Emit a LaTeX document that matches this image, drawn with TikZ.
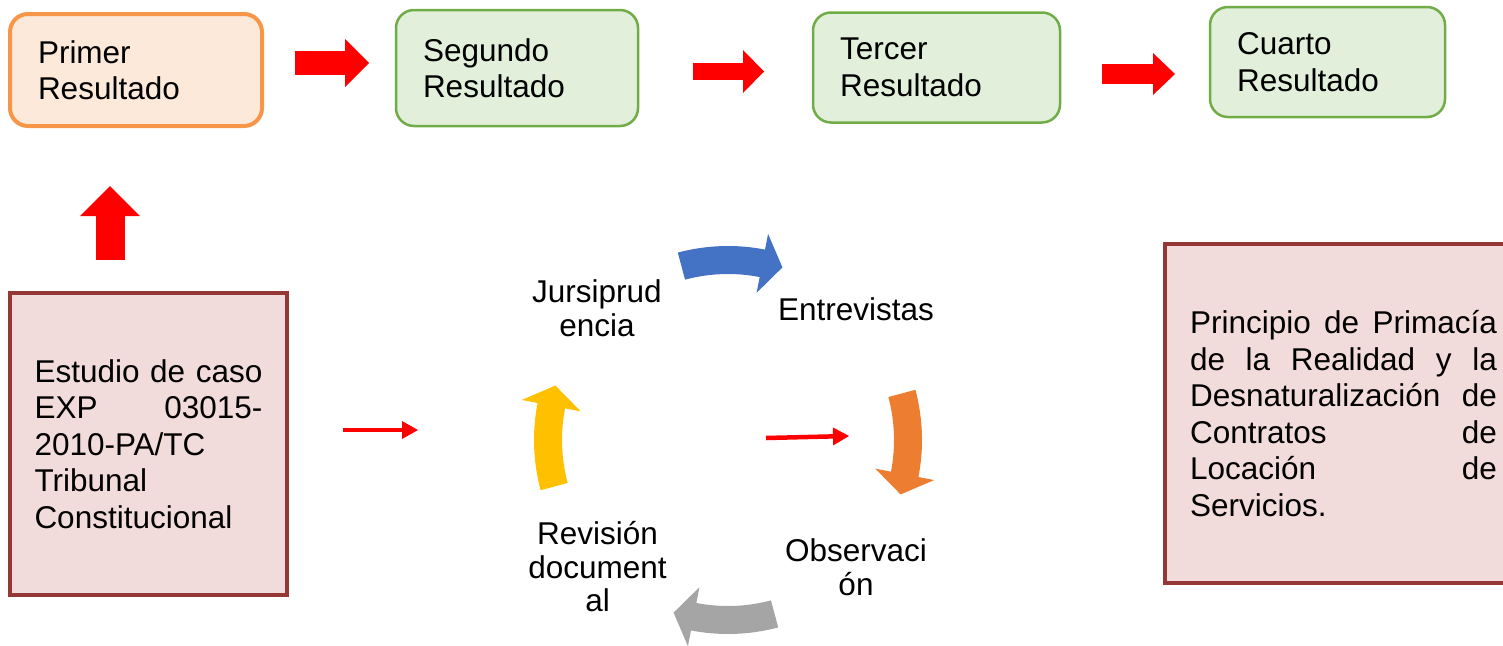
\documentclass[tikz,border=0pt]{standalone}
\usepackage{fontspec}
\setmainfont{Liberation Sans}
\usetikzlibrary{arrows.meta}
\definecolor{firstline}{HTML}{F79646}
\definecolor{firstfill}{HTML}{FDE9D9}
\definecolor{resline}{HTML}{70AD47}
\definecolor{resfill}{HTML}{E2EFDA}
\definecolor{caseline}{HTML}{953735}
\definecolor{casefill}{HTML}{F2DCDB}
\definecolor{cycblue}{HTML}{4472C4}
\definecolor{cycorange}{HTML}{ED7D31}
\definecolor{cycgray}{HTML}{A5A5A5}
\definecolor{cycyellow}{HTML}{FFC000}
\hbadness=10000
\begin{document}
\begin{tikzpicture}[x=1pt,y=-1pt,
    txt/.style={font=\fontsize{31.5}{36.5}\selectfont},
    resbox/.style={txt,draw=resline,fill=resfill,line width=2.5pt,rounded corners=18pt,
      outer sep=0pt,inner xsep=27pt,align=left},
    firstbox/.style={resbox,draw=firstline,fill=firstfill,line width=4pt},
    casebox/.style={txt,draw=caseline,fill=casefill,line width=4pt,outer sep=0pt,align=justify},
    cyclabel/.style={font=\fontsize{31.5}{33.5}\selectfont,align=center,inner sep=0pt},
    thinred/.style={draw=red,line width=4.5pt,-{Triangle[length=16pt,width=18pt,line width=0pt]}}
  ]
  \clip (0,0) rectangle (1503,645);

  % result boxes
  \node[firstbox,text width=196pt,inner xsep=28pt,minimum height=112pt] (primer) at (136,70) {Primer\\Resultado};
  \node[resbox,text width=188pt,minimum height=116pt] (segundo) at (517,68) {Segundo\\Resultado};
  \node[resbox,text width=193pt,minimum height=110pt] (tercer) at (936.5,67.5) {Tercer\\Resultado};
  \node[resbox,text width=181pt,minimum height=110pt] (cuarto) at (1327.5,62) {Cuarto\\Resultado};

  % case boxes
  \node[casebox,text width=228pt,inner xsep=24.5pt,minimum height=302pt] (estudio) at (148.5,444)
    {Estudio de caso\linebreak EXP 03015-\linebreak 2010-PA/TC\linebreak Tribunal\linebreak Constitucional};
  \node[casebox,text width=307pt,inner xsep=25pt,minimum height=339pt] (principio) at (1343.5,413.5)
    {Principio de Primacía\linebreak de la Realidad y la\linebreak Desnaturalización de\linebreak
     Contratos de\linebreak Locación de\linebreak Servicios.};

  % block arrows
  \draw[red,line width=24pt,-{Triangle[length=24pt,width=48pt,line width=0pt]},
    shorten <=33pt,shorten >=27pt]
    ([yshift=7pt]primer.east) -- ([yshift=7pt]primer.east -| segundo.west);
  \draw[red,line width=17pt,-{Triangle[length=21pt,width=43pt,line width=0pt]},
    shorten <=55pt,shorten >=49pt]
    ([yshift=-3.5pt]segundo.east) -- ([yshift=-3.5pt]segundo.east -| tercer.west);
  \draw[red,line width=20pt,-{Triangle[length=22pt,width=42pt,line width=0pt]},
    shorten <=42pt,shorten >=35pt]
    ([yshift=-6.5pt]tercer.east) -- ([yshift=-6.5pt]tercer.east -| cuarto.west);
  \draw[red,line width=29pt,-{Triangle[length=30pt,width=60pt,line width=0pt]},
    shorten <=33pt,shorten >=60pt]
    ([xshift=-38.5pt]estudio.north) -- ([xshift=-38.5pt]estudio.north |- primer.south);

  % cycle
  \node[cyclabel] (juris) at (597,308) {Jursiprud\\encia};
  \node[cyclabel] (entre) at (856,309) {Entrevistas};
  \node[cyclabel] (obser) at (856,567) {Observaci\\ón};
  \node[cyclabel] (revis) at (597.5,567) {Revisión\\document\\al};
  \begin{scope}[shift={(728,440)}]
    \fill[cycblue] (-105:166) arc[start angle=-105,end angle=-79,radius=166] -- (-79:150)
      -- (-72.5:181) -- (-79:210) -- (-79:194) arc[start angle=-79,end angle=-105,radius=194] -- cycle;
    \fill[cycorange] (-15:166) arc[start angle=-15,end angle=11,radius=166] -- (11:150)
      -- (17.5:181) -- (11:210) -- (11:194) arc[start angle=11,end angle=-15,radius=194] -- cycle;
    \fill[cycgray] (75:166) arc[start angle=75,end angle=101,radius=166] -- (101:150)
      -- (107.5:181) -- (101:210) -- (101:194) arc[start angle=101,end angle=75,radius=194] -- cycle;
    \fill[cycyellow] (165:166) arc[start angle=165,end angle=191,radius=166] -- (191:150)
      -- (197.5:181) -- (191:210) -- (191:194) arc[start angle=191,end angle=165,radius=194] -- cycle;
  \end{scope}

  % thin arrows
  \coordinate (infrom) at (343,430);
  \coordinate (into) at (418,430);
  \coordinate (midfrom) at (766,438);
  \coordinate (midto) at (849,436);
  \draw[thinred] (infrom) -- (into);
  \draw[thinred] (midfrom) -- (midto);
\end{tikzpicture}
\end{document}
